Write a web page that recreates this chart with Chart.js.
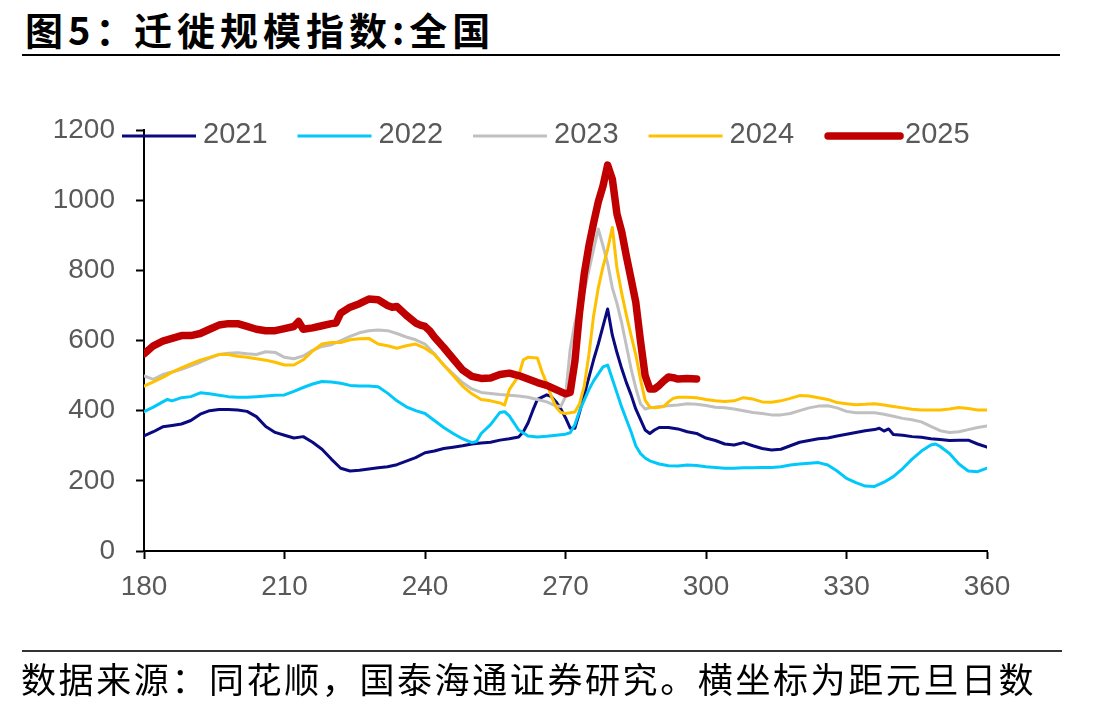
<!DOCTYPE html>
<html>
<head>
<meta charset="utf-8">
<script src="https://cdn.jsdelivr.net/npm/chart.js@4/dist/chart.umd.min.js"></script>
<style>
  html, body { margin: 0; padding: 0; background: #fff; }
  body { width: 1108px; height: 710px; position: relative; overflow: hidden; }
  #chart { position: absolute; left: 0; top: 0; }
  .title { position: absolute; top: 1px; font: bold 38px "Noto Sans CJK SC", sans-serif; color: #000; letter-spacing: 5px; white-space: nowrap; }
  .rule { position: absolute; height: 2px; }
  .source { position: absolute; left: 21px; top: 652px; font: 35px "Noto Sans CJK SC", sans-serif; color: #000; letter-spacing: 2.6px; white-space: nowrap; }
</style>
</head>
<body>
<div class="title" style="left:25px">图5：</div>
<div class="title" style="left:134px">迁徙规模指数:全国</div>
<div class="rule" style="left:22px; top:54px; width:1038px; background:#000"></div>
<canvas id="chart" width="1108" height="710"></canvas>
<div class="rule" style="left:22px; top:650px; width:1040px; background:#333"></div>
<div class="source">数据来源：同花顺，国泰海通证券研究。横坐标为距元旦日数</div>
<script>
// 横坐标：距元旦日数
const xTicks = [180, 210, 240, 270, 300, 330, 360]
const yTicks = [0, 200, 400, 600, 800, 1000, 1200]
const seriesNames = ['2021', '2022', '2023', '2024', '2025']

const days2021 = [180,182,184,186,188,190,192,194,196,198,200,202,204,206,208,210,212,214,216,218,220,222,224,226,228,230,232,234,236,238,240,242,244,246,248,250,252,254,256,258,260,261,262,263,264,266,267,268,269,270,271,272,273,274,275,276,277,278,279,280,281,282,283,284,285,286,287,288,289,290,292,294,296,298,300,302,304,306,308,310,312,314,316,318,320,322,324,326,328,330,332,334,336,337,338,339,340,342,344,346,348,350,352,354,356,358,360]
const vals2021 = [328,340,354,358,362,372,390,400,403,403,402,398,383,355,338,330,322,326,310,290,262,236,228,230,234,237,240,246,256,266,280,285,292,296,300,305,308,310,316,320,325,340,365,400,432,445,440,425,405,380,350,350,395,445,495,545,590,640,690,615,565,520,480,445,405,375,345,335,345,352,352,348,340,335,322,315,305,302,309,300,292,288,290,300,310,315,320,322,328,333,338,343,346,350,342,348,332,330,326,324,320,318,315,316,316,305,296]

const days2022 = [180,182,184,185,186,188,190,192,194,196,198,200,202,204,206,208,210,212,214,216,218,220,222,224,226,228,230,232,234,236,238,240,242,244,246,248,250,251,252,254,256,257,258,260,262,264,266,268,270,271,272,273,274,275,276,277,278,279,280,281,282,283,284,285,286,287,288,290,292,294,296,298,300,302,304,306,308,310,312,314,316,318,320,322,324,326,328,330,332,334,336,338,340,342,344,346,348,349,350,352,354,356,358,360]
const vals2022 = [397,410,425,432,428,437,440,451,448,444,440,438,438,440,442,444,445,455,466,476,483,482,478,472,470,470,468,450,428,411,400,392,372,352,335,320,309,312,335,360,395,397,385,345,328,325,327,330,333,337,360,400,430,460,485,505,525,530,490,450,410,375,340,300,278,265,257,248,243,242,245,244,240,238,236,236,237,237,238,238,240,245,248,250,252,245,228,207,195,185,184,196,212,235,262,285,302,305,298,278,248,228,226,236]

const days2023 = [180,182,184,186,188,190,192,194,196,198,200,202,204,206,208,210,212,214,216,218,220,222,224,226,228,230,232,234,236,238,240,242,244,246,248,250,252,254,256,258,260,262,264,266,268,269,270,271,272,273,274,275,276,277,278,279,280,281,282,283,284,285,286,287,288,290,292,294,296,298,300,302,304,306,308,310,312,314,316,318,320,322,324,326,328,330,332,334,336,338,340,342,344,346,348,350,352,354,356,358,360]
const vals2023 = [499,489,503,510,518,528,538,550,560,564,565,562,560,568,566,552,548,556,572,583,588,600,612,622,628,630,628,620,610,602,590,562,530,505,480,462,452,449,446,444,442,438,432,425,413,412,440,575,650,700,740,800,860,918,870,820,750,705,650,585,520,465,420,405,408,412,414,416,420,418,415,410,408,405,400,395,392,388,388,392,400,408,413,414,408,398,394,394,394,390,384,378,374,368,355,343,338,340,346,352,356]

const days2024 = [180,182,184,186,188,190,192,194,196,198,200,202,204,206,208,210,212,214,216,218,220,222,224,226,228,230,232,234,236,238,240,242,244,246,248,250,252,254,256,257,258,259,260,261,262,264,265,266,267,268,269,270,271,272,273,274,275,276,277,278,279,280,281,282,283,284,285,286,287,288,289,290,291,292,293,294,296,298,300,302,304,306,308,310,312,314,316,318,320,322,324,326,328,330,332,334,336,338,340,342,344,346,348,350,352,354,356,358,360]
const vals2024 = [470,482,495,510,522,533,544,552,560,560,555,552,548,544,538,530,530,545,570,590,594,594,602,605,606,590,585,578,585,590,578,560,530,500,470,448,432,428,422,416,460,480,500,545,552,550,510,478,440,410,395,392,394,396,420,470,560,670,750,810,860,922,805,735,672,615,560,490,430,410,408,410,412,425,435,438,438,437,432,428,426,428,437,433,425,424,428,435,443,442,437,432,423,420,417,418,420,416,412,408,404,402,402,402,405,409,406,402,402]

const days2025 = [180,182,184,186,188,190,192,194,196,198,200,202,204,206,208,210,212,213,214,216,218,220,221,222,224,226,228,230,232,233,234,236,238,239,240,241,242,244,246,248,250,252,254,256,258,260,262,264,266,268,270,271,272,273,274,275,276,277,278,279,280,281,282,283,284,285,286,287,288,289,290,291,292,293,294,296,298]
const vals2025 = [562,585,598,606,614,614,620,632,644,648,648,640,632,628,628,634,640,654,632,636,642,648,650,678,695,705,718,716,700,695,697,672,650,644,640,628,610,580,548,516,498,492,493,503,507,500,490,480,472,460,448,452,540,680,790,870,935,995,1040,1100,1060,960,910,840,775,710,600,500,462,462,472,485,496,494,490,492,490]

const seriesColors = ['#0a0a80', '#00c8fa', '#c0c0c0', '#ffc000', '#c00000']
const seriesWidths = [3, 3, 3, 3, 7.5]

const allDays = [days2021, days2022, days2023, days2024, days2025]
const allVals = [vals2021, vals2022, vals2023, vals2024, vals2025]

const FONT = '"Liberation Sans", Arial, sans-serif'

// legend drawn over the top of the plot like the original
const lineLegend = {
  id: 'lineLegend',
  afterDraw (chart) {
    const ctx = chart.ctx
    ctx.save()
    ctx.font = `29px ${FONT}`
    ctx.textBaseline = 'middle'
    let x = 122
    const y = 136
    chart.data.datasets.forEach((ds) => {
      const thick = ds.borderWidth > 4
      ctx.strokeStyle = ds.borderColor
      ctx.lineWidth = ds.borderWidth
      ctx.lineCap = thick ? 'round' : 'butt'
      ctx.beginPath()
      ctx.moveTo(thick ? x + 4 : x, y)
      ctx.lineTo(thick ? x + 76 : x + 74, y)
      ctx.stroke()
      ctx.fillStyle = '#595959'
      ctx.fillText(ds.label, x + 81, y - 1)
      x += 81 + ctx.measureText(ds.label).width + 30
    })
    ctx.restore()
  }
}

const datasets = seriesNames.map((name, i) => ({
  label: name,
  data: allDays[i].map((d, j) => ({ x: d, y: allVals[i][j] })),
  borderColor: seriesColors[i],
  backgroundColor: seriesColors[i],
  borderWidth: seriesWidths[i],
  borderCapStyle: 'round',
  borderJoinStyle: 'round',
  pointRadius: 0,
  tension: 0,
  order: seriesNames.length - i
}))

new Chart(document.getElementById('chart'), {
  type: 'line',
  data: { datasets },
  plugins: [lineLegend],
  options: {
    responsive: false,
    animation: false,
    devicePixelRatio: 1,
    layout: { padding: { left: 0, top: 130, right: 121, bottom: 109 } },
    plugins: {
      legend: { display: false },
      tooltip: { enabled: false }
    },
    scales: {
      x: {
        type: 'linear',
        min: xTicks[0],
        max: xTicks[xTicks.length - 1],
        afterBuildTicks: (axis) => { axis.ticks = xTicks.map(v => ({ value: v })) },
        afterFit: (axis) => { axis.height = 50 },
        border: { color: '#000', width: 2 },
        grid: { drawOnChartArea: false, drawTicks: true, tickLength: 8, tickColor: '#000', tickWidth: 2 },
        ticks: { color: '#595959', font: { family: FONT, size: 28 }, padding: 11, maxRotation: 0, callback: (v) => String(v) }
      },
      y: {
        min: yTicks[0],
        max: yTicks[yTicks.length - 1],
        afterBuildTicks: (axis) => { axis.ticks = yTicks.map(v => ({ value: v })) },
        afterFit: (axis) => { axis.width = 144 },
        border: { color: '#000', width: 2 },
        grid: { drawOnChartArea: false, drawTicks: true, tickLength: 8, tickColor: '#000', tickWidth: 2 },
        ticks: { color: '#595959', font: { family: FONT, size: 28 }, padding: 21, callback: (v) => String(v) }
      }
    }
  }
})
</script>
</body>
</html>
